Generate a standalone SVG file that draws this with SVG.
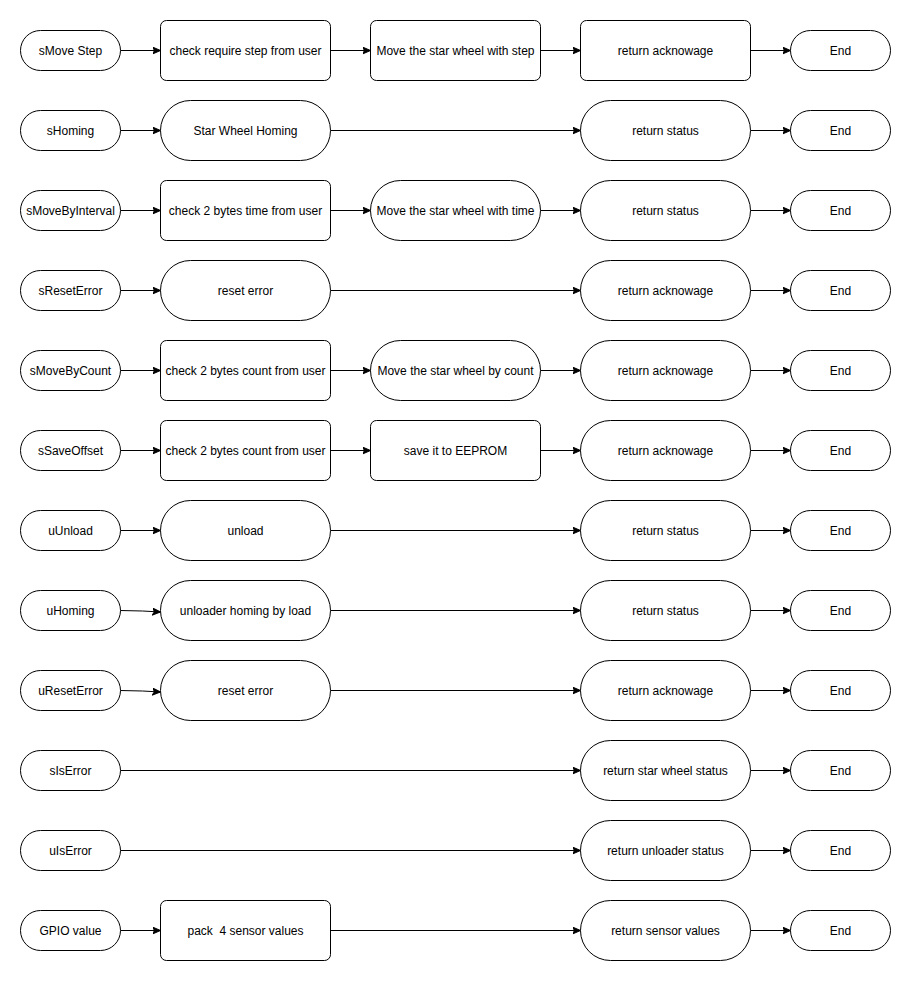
<svg xmlns="http://www.w3.org/2000/svg" width="911" height="982" viewBox="0 0 911 982">
<style>
.n{fill:#fff;stroke:#000;stroke-width:1}
.t{font-family:"Liberation Sans",Arial,Helvetica,sans-serif;font-size:12px;fill:#000;text-anchor:middle;dominant-baseline:central;white-space:pre}
.c{fill:none;stroke:#000;stroke-width:1;marker-end:url(#a)}
</style>
<defs>
<marker id="a" markerUnits="userSpaceOnUse" markerWidth="10" markerHeight="10" refX="8" refY="4" orient="auto">
<path d="M0,0.5 L8,4 L0,7.5 L2,4 z" fill="#000" stroke="#000" stroke-width="1"/>
</marker>
</defs>
<rect width="911" height="982" fill="#fff"/>
<g transform="translate(0.5,0.5)">
<g id="connectors">
<path class="c" d="M120,50 H160"/><path class="c" d="M330,50 H370"/><path class="c" d="M540,50 H580"/><path class="c" d="M750,50 H790"/>
<path class="c" d="M120,130 H160"/><path class="c" d="M330,130 H580"/><path class="c" d="M750,130 H790"/>
<path class="c" d="M120,210 H160"/><path class="c" d="M330,210 H370"/><path class="c" d="M540,210 H580"/><path class="c" d="M750,210 H790"/>
<path class="c" d="M120,290 H160"/><path class="c" d="M330,290 H580"/><path class="c" d="M750,290 H790"/>
<path class="c" d="M120,370 H160"/><path class="c" d="M330,370 H370"/><path class="c" d="M540,370 H580"/><path class="c" d="M750,370 H790"/>
<path class="c" d="M120,450 H160"/><path class="c" d="M330,450 H370"/><path class="c" d="M540,450 H580"/><path class="c" d="M750,450 H790"/>
<path class="c" d="M120,530 H160"/><path class="c" d="M330,530 H580"/><path class="c" d="M750,530 H790"/>
<path class="c" d="M120,610 L142,610.5 L160,611.5"/><path class="c" d="M330,610 H580"/><path class="c" d="M750,610 H790"/>
<path class="c" d="M120,690 L142,690.5 L160,691.5"/><path class="c" d="M330,690 H580"/><path class="c" d="M750,690 H790"/>
<path class="c" d="M120,770 H580"/><path class="c" d="M750,770 H790"/>
<path class="c" d="M120,850 H580"/><path class="c" d="M750,850 H790"/>
<path class="c" d="M120,930 H160"/><path class="c" d="M330,930 H580"/><path class="c" d="M750,930 H790"/>
</g>

<!-- Row 0 -->
<g id="r0c1"><rect class="n" x="20" y="30" width="100" height="40" rx="20"/><text class="t" x="70" y="50">sMove Step</text></g>
<g id="r0c2"><rect class="n" x="160" y="20" width="170" height="60" rx="6"/><text class="t" x="245" y="50">check require step from user</text></g>
<g id="r0c3"><rect class="n" x="370" y="20" width="170" height="60" rx="6"/><text class="t" x="455" y="50">Move the star wheel with step</text></g>
<g id="r0c4"><rect class="n" x="580" y="20" width="170" height="60" rx="6"/><text class="t" x="665" y="50">return acknowage</text></g>
<g id="r0end"><rect class="n" x="790" y="30" width="100" height="40" rx="20"/><text class="t" x="840" y="50">End</text></g>

<!-- Row 1 -->
<g id="r1c1"><rect class="n" x="20" y="110" width="100" height="40" rx="20"/><text class="t" x="70" y="130">sHoming</text></g>
<g id="r1c2"><rect class="n" x="160" y="100" width="170" height="60" rx="30"/><text class="t" x="245" y="130">Star Wheel Homing</text></g>
<g id="r1c4"><rect class="n" x="580" y="100" width="170" height="60" rx="30"/><text class="t" x="665" y="130">return status</text></g>
<g id="r1end"><rect class="n" x="790" y="110" width="100" height="40" rx="20"/><text class="t" x="840" y="130">End</text></g>

<!-- Row 2 -->
<g id="r2c1"><rect class="n" x="20" y="190" width="100" height="40" rx="20"/><text class="t" x="70" y="210">sMoveByInterval</text></g>
<g id="r2c2"><rect class="n" x="160" y="180" width="170" height="60" rx="6"/><text class="t" x="245" y="210">check 2 bytes time from user</text></g>
<g id="r2c3"><rect class="n" x="370" y="180" width="170" height="60" rx="30"/><text class="t" x="455" y="210">Move the star wheel with time</text></g>
<g id="r2c4"><rect class="n" x="580" y="180" width="170" height="60" rx="30"/><text class="t" x="665" y="210">return status</text></g>
<g id="r2end"><rect class="n" x="790" y="190" width="100" height="40" rx="20"/><text class="t" x="840" y="210">End</text></g>

<!-- Row 3 -->
<g id="r3c1"><rect class="n" x="20" y="270" width="100" height="40" rx="20"/><text class="t" x="70" y="290">sResetError</text></g>
<g id="r3c2"><rect class="n" x="160" y="260" width="170" height="60" rx="30"/><text class="t" x="245" y="290">reset error</text></g>
<g id="r3c4"><rect class="n" x="580" y="260" width="170" height="60" rx="30"/><text class="t" x="665" y="290">return acknowage</text></g>
<g id="r3end"><rect class="n" x="790" y="270" width="100" height="40" rx="20"/><text class="t" x="840" y="290">End</text></g>

<!-- Row 4 -->
<g id="r4c1"><rect class="n" x="20" y="350" width="100" height="40" rx="20"/><text class="t" x="70" y="370">sMoveByCount</text></g>
<g id="r4c2"><rect class="n" x="160" y="340" width="170" height="60" rx="6"/><text class="t" x="245" y="370">check 2 bytes count from user</text></g>
<g id="r4c3"><rect class="n" x="370" y="340" width="170" height="60" rx="30"/><text class="t" x="455" y="370">Move the star wheel by count</text></g>
<g id="r4c4"><rect class="n" x="580" y="340" width="170" height="60" rx="30"/><text class="t" x="665" y="370">return acknowage</text></g>
<g id="r4end"><rect class="n" x="790" y="350" width="100" height="40" rx="20"/><text class="t" x="840" y="370">End</text></g>

<!-- Row 5 -->
<g id="r5c1"><rect class="n" x="20" y="430" width="100" height="40" rx="20"/><text class="t" x="70" y="450">sSaveOffset</text></g>
<g id="r5c2"><rect class="n" x="160" y="420" width="170" height="60" rx="6"/><text class="t" x="245" y="450">check 2 bytes count from user</text></g>
<g id="r5c3"><rect class="n" x="370" y="420" width="170" height="60" rx="6"/><text class="t" x="455" y="450">save it to EEPROM</text></g>
<g id="r5c4"><rect class="n" x="580" y="420" width="170" height="60" rx="30"/><text class="t" x="665" y="450">return acknowage</text></g>
<g id="r5end"><rect class="n" x="790" y="430" width="100" height="40" rx="20"/><text class="t" x="840" y="450">End</text></g>

<!-- Row 6 -->
<g id="r6c1"><rect class="n" x="20" y="510" width="100" height="40" rx="20"/><text class="t" x="70" y="530">uUnload</text></g>
<g id="r6c2"><rect class="n" x="160" y="500" width="170" height="60" rx="30"/><text class="t" x="245" y="530">unload</text></g>
<g id="r6c4"><rect class="n" x="580" y="500" width="170" height="60" rx="30"/><text class="t" x="665" y="530">return status</text></g>
<g id="r6end"><rect class="n" x="790" y="510" width="100" height="40" rx="20"/><text class="t" x="840" y="530">End</text></g>

<!-- Row 7 -->
<g id="r7c1"><rect class="n" x="20" y="590" width="100" height="40" rx="20"/><text class="t" x="70" y="610">uHoming</text></g>
<g id="r7c2"><rect class="n" x="160" y="580" width="170" height="60" rx="30"/><text class="t" x="245" y="610">unloader homing by load</text></g>
<g id="r7c4"><rect class="n" x="580" y="580" width="170" height="60" rx="30"/><text class="t" x="665" y="610">return status</text></g>
<g id="r7end"><rect class="n" x="790" y="590" width="100" height="40" rx="20"/><text class="t" x="840" y="610">End</text></g>

<!-- Row 8 -->
<g id="r8c1"><rect class="n" x="20" y="670" width="100" height="40" rx="20"/><text class="t" x="70" y="690">uResetError</text></g>
<g id="r8c2"><rect class="n" x="160" y="660" width="170" height="60" rx="30"/><text class="t" x="245" y="690">reset error</text></g>
<g id="r8c4"><rect class="n" x="580" y="660" width="170" height="60" rx="30"/><text class="t" x="665" y="690">return acknowage</text></g>
<g id="r8end"><rect class="n" x="790" y="670" width="100" height="40" rx="20"/><text class="t" x="840" y="690">End</text></g>

<!-- Row 9 -->
<g id="r9c1"><rect class="n" x="20" y="750" width="100" height="40" rx="20"/><text class="t" x="70" y="770">sIsError</text></g>
<g id="r9c4"><rect class="n" x="580" y="740" width="170" height="60" rx="30"/><text class="t" x="665" y="770">return star wheel status</text></g>
<g id="r9end"><rect class="n" x="790" y="750" width="100" height="40" rx="20"/><text class="t" x="840" y="770">End</text></g>

<!-- Row 10 -->
<g id="r10c1"><rect class="n" x="20" y="830" width="100" height="40" rx="20"/><text class="t" x="70" y="850">uIsError</text></g>
<g id="r10c4"><rect class="n" x="580" y="820" width="170" height="60" rx="30"/><text class="t" x="665" y="850">return unloader status</text></g>
<g id="r10end"><rect class="n" x="790" y="830" width="100" height="40" rx="20"/><text class="t" x="840" y="850">End</text></g>

<!-- Row 11 -->
<g id="r11c1"><rect class="n" x="20" y="910" width="100" height="40" rx="20"/><text class="t" x="70" y="930">GPIO value</text></g>
<g id="r11c2"><rect class="n" x="160" y="900" width="170" height="60" rx="6"/><text class="t" x="245" y="930" xml:space="preserve">pack  4 sensor values</text></g>
<g id="r11c4"><rect class="n" x="580" y="900" width="170" height="60" rx="30"/><text class="t" x="665" y="930">return sensor values</text></g>
<g id="r11end"><rect class="n" x="790" y="910" width="100" height="40" rx="20"/><text class="t" x="840" y="930">End</text></g>
</g>
</svg>
